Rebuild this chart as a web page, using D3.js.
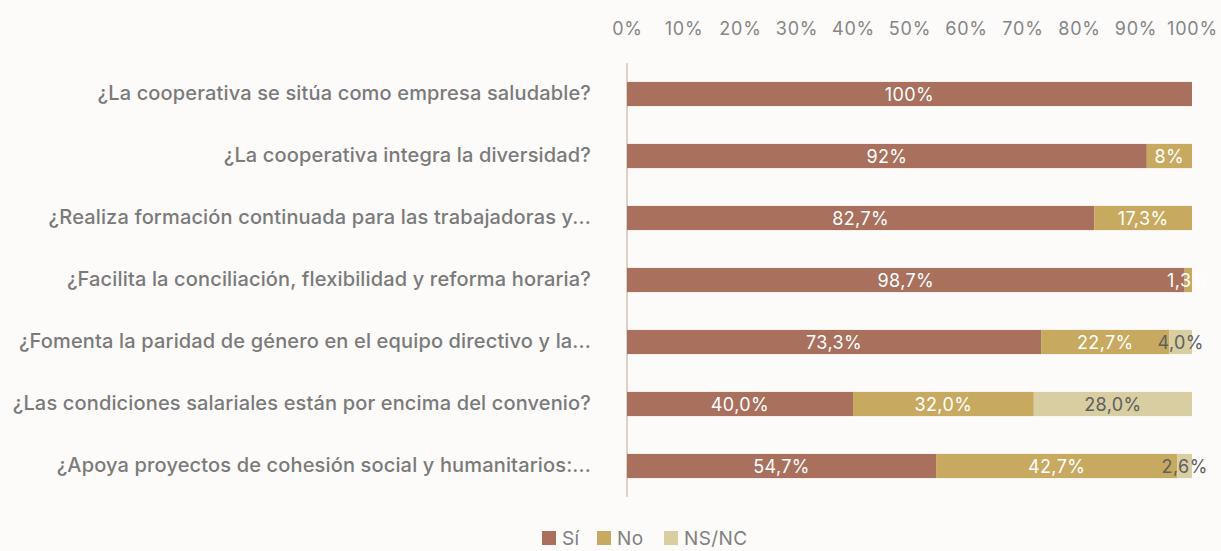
<!DOCTYPE html>
<html>
<head>
<meta charset="utf-8">
<script src="https://cdn.jsdelivr.net/npm/d3@7"></script>
<style>
  html, body { margin: 0; padding: 0; background: #fcfbf9; }
  svg { display: block; font-family: Inter, "Liberation Sans", Arial, sans-serif; font-weight: 500; }
</style>
</head>
<body>
<svg id="chart" width="1221" height="551"></svg>
<script>
// Survey questions (rows, top to bottom)
const questions = [
  "¿La cooperativa se sitúa como empresa saludable?",
  "¿La cooperativa integra la diversidad?",
  "¿Realiza formación continuada para las trabajadoras y...",
  "¿Facilita la conciliación, flexibilidad y reforma horaria?",
  "¿Fomenta la paridad de género en el equipo directivo y la...",
  "¿Las condiciones salariales están por encima del convenio?",
  "¿Apoya proyectos de cohesión social y humanitarios:..."
];
// Share of answers per question (%)
const si   = [100, 92, 82.7, 98.7, 73.3, 40.0, 54.7];
const no   = [0, 8, 17.3, 1.3, 22.7, 32.0, 42.7];
const nsnc = [0, 0, 0, 0, 4.0, 28.0, 2.6];
// Printed labels per segment
const siLabels   = ["100%", "92%", "82,7%", "98,7%", "73,3%", "40,0%", "54,7%"];
const noLabels   = ["", "8%", "17,3%", "1,3%", "22,7%", "32,0%", "42,7%"];
const nsncLabels = ["", "", "", "", "4,0%", "28,0%", "2,6%"];
const tickValues = [0, 10, 20, 30, 40, 50, 60, 70, 80, 90, 100];
const seriesNames = ["Sí", "No", "NS/NC"];
const colors = ["#a8705d", "#c7aa5f", "#d9cda2"];
const labelColors = ["#ffffff", "#ffffff", "#5f5f5f"];

const svg = d3.select("#chart");
const x = d3.scaleLinear().domain([0, 100]).range([627, 1192]);
const y = d3.scaleBand().domain(questions).range([63, 497]).paddingInner(0.61).paddingOuter(0.305);

// Top percentage axis (labels only)
const xAxis = d3.axisTop(x).tickValues(tickValues).tickFormat(d => d + "%").tickSize(0).tickPadding(0);
const gx = svg.append("g").attr("transform", "translate(0,35)").call(xAxis);
gx.select(".domain").remove();
gx.selectAll("text").attr("fill", "#858585").style("font-size", "18px")
  .style("letter-spacing", "0.8px")
  .style("font-family", "Inter, sans-serif").style("font-weight", 400);

// Category axis (labels only) + vertical baseline
const yAxis = d3.axisLeft(y).tickSize(0).tickPadding(36);
const gy = svg.append("g").attr("transform", `translate(${x(0)},0)`).call(yAxis);
gy.select(".domain").remove();
gy.selectAll("text").attr("fill", "#7a7a7a").style("font-size", "20px")
  .style("letter-spacing", "0.15px")
  .style("font-family", "Inter, sans-serif").style("font-weight", 500);

svg.append("line")
  .attr("x1", x(0)).attr("x2", x(0))
  .attr("y1", 63).attr("y2", 497)
  .attr("stroke", "#d6c3b6").attr("stroke-width", 1.5);

// Stacked segments
const rows = questions.map((q, i) => ({ q, vals: [si[i], no[i], nsnc[i]], labels: [siLabels[i], noLabels[i], nsncLabels[i]] }));
rows.forEach(r => {
  let acc = 0;
  r.vals.forEach((v, k) => {
    const x0 = acc; acc += v;
    if (v <= 0) return;
    svg.append("rect")
      .attr("x", x(x0)).attr("width", x(acc) - x(x0))
      .attr("y", y(r.q)).attr("height", y.bandwidth())
      .attr("fill", colors[k]);
  });
  acc = 0;
  r.vals.forEach((v, k) => {
    const x0 = acc; acc += v;
    if (!r.labels[k]) return;
    svg.append("text")
      .attr("x", x((x0 + acc) / 2)).attr("y", y(r.q) + y.bandwidth() / 2)
      .attr("text-anchor", "middle").attr("dominant-baseline", "central")
      .attr("fill", labelColors[k]).style("font-size", "18px").style("font-weight", 400)
      .style("letter-spacing", "0.4px")
      .text(r.labels[k]);
  });
});

// Legend
const legend = svg.append("g").attr("transform", "translate(542,530)");
const legendX = [0, 55, 122];
seriesNames.forEach((name, k) => {
  const g = legend.append("g").attr("transform", `translate(${legendX[k]},0)`);
  g.append("rect").attr("y", 1).attr("width", 14).attr("height", 14).attr("fill", colors[k]);
  g.append("text").attr("x", 20).attr("y", 8).attr("dominant-baseline", "central")
    .attr("fill", "#808080").style("font-size", "19px").style("font-weight", 400)
    .style("letter-spacing", "0.4px").text(name);
});
</script>
</body>
</html>
